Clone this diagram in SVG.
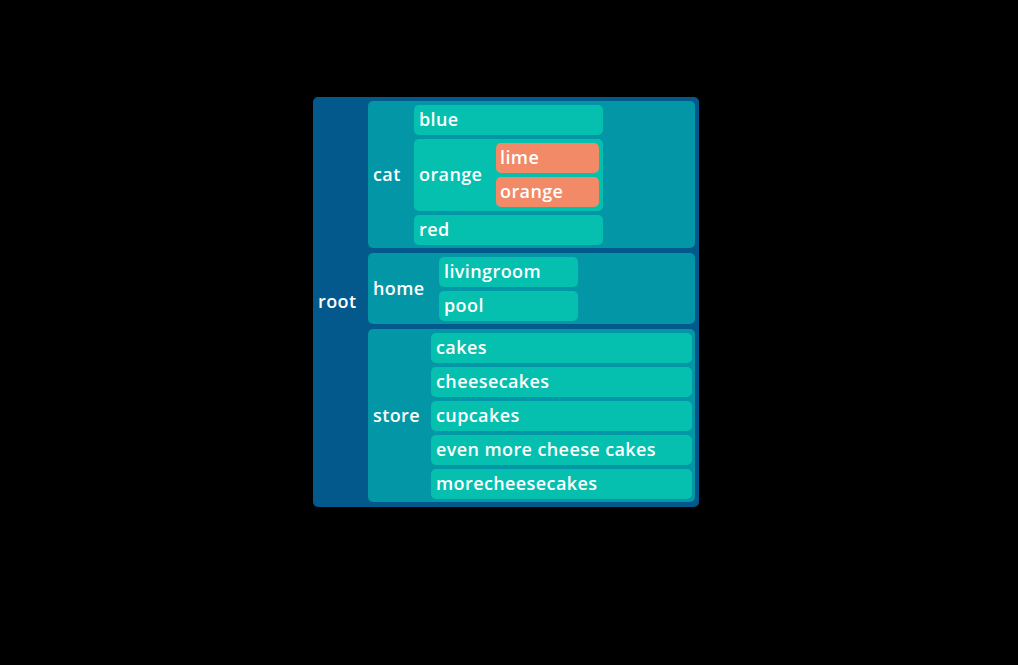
<svg xmlns="http://www.w3.org/2000/svg" width="1018" height="665" viewBox="0 0 1018 665">
<style>
.root{fill:#03588C}
.mid{fill:#0396A6}
.leaf{fill:#05BFAF}
.hot{fill:#F28A68}
text{font-family:"Open Sans","Liberation Sans",sans-serif;font-weight:600;font-size:18px;letter-spacing:0.4px;fill:#ffffff}
</style>
<rect width="1018" height="665" fill="#000000"/>
<g id="root"><rect class="root" x="313" y="97" width="386" height="410" rx="5"/><text x="318" y="308">root</text></g>
<g id="cat"><rect class="mid" x="368" y="101" width="327" height="147" rx="5"/><text x="373" y="181">cat</text></g>
<g id="cat-blue"><rect class="leaf" x="414" y="105" width="189" height="30" rx="5"/><text x="419" y="126">blue</text></g>
<g id="cat-orange"><rect class="leaf" x="414" y="139" width="189" height="72" rx="5"/><text x="419" y="181">orange</text></g>
<g id="cat-orange-lime"><rect class="hot" x="496" y="143" width="103" height="30" rx="5"/><text x="500" y="164">lime</text></g>
<g id="cat-orange-orange"><rect class="hot" x="496" y="177" width="103" height="30" rx="5"/><text x="500" y="198">orange</text></g>
<g id="cat-red"><rect class="leaf" x="414" y="215" width="189" height="30" rx="5"/><text x="419" y="236">red</text></g>
<g id="home"><rect class="mid" x="368" y="253" width="327" height="71" rx="5"/><text x="373" y="295">home</text></g>
<g id="home-livingroom"><rect class="leaf" x="439" y="257" width="139" height="30" rx="5"/><text x="444" y="278">livingroom</text></g>
<g id="home-pool"><rect class="leaf" x="439" y="291" width="139" height="30" rx="5"/><text x="444" y="312">pool</text></g>
<g id="store"><rect class="mid" x="368" y="329" width="327" height="173" rx="5"/><text x="373" y="422">store</text></g>
<g id="store-cakes"><rect class="leaf" x="431" y="333" width="261" height="30" rx="5"/><text x="436" y="354">cakes</text></g>
<g id="store-cheesecakes"><rect class="leaf" x="431" y="367" width="261" height="30" rx="5"/><text x="436" y="388">cheesecakes</text></g>
<g id="store-cupcakes"><rect class="leaf" x="431" y="401" width="261" height="30" rx="5"/><text x="436" y="422">cupcakes</text></g>
<g id="store-even"><rect class="leaf" x="431" y="435" width="261" height="30" rx="5"/><text x="436" y="456">even more cheese cakes</text></g>
<g id="store-more"><rect class="leaf" x="431" y="469" width="261" height="30" rx="5"/><text x="436" y="490">morecheesecakes</text></g>
<g id="connectors"></g>
</svg>
